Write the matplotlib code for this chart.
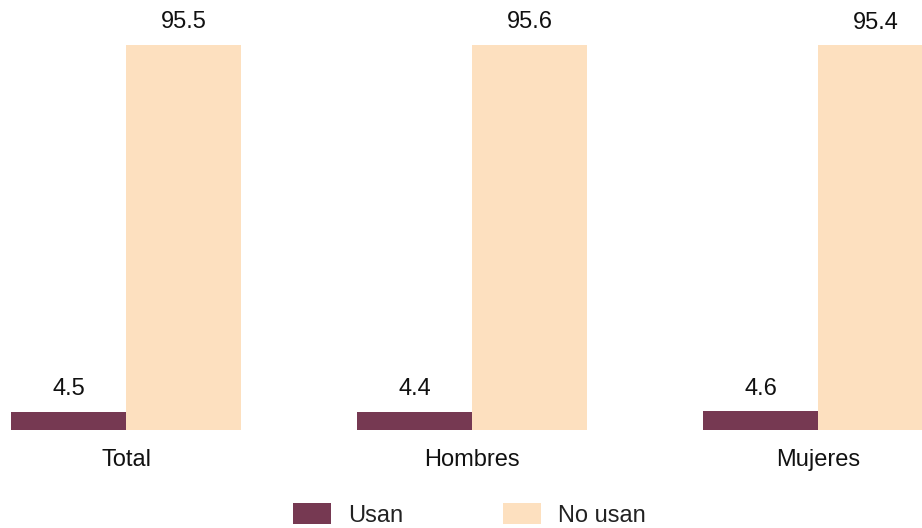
import matplotlib
matplotlib.use("Agg")
import matplotlib.pyplot as plt
import numpy as np

plt.rcParams['font.family'] = ['Liberation Sans', 'DejaVu Sans']

categories = ['Total', 'Hombres', 'Mujeres']
usan = [4.5, 4.4, 4.6]
no_usan = [95.5, 95.6, 95.4]
series_names = ['Usan', 'No usan']
colors = ['#763952', '#fde0bf']

W, H = 922, 528
fig = plt.figure(figsize=(W / 100, H / 100), dpi=100)
# axes placed in pixel terms: baseline at y=430, 4.03 px per unit
ax = fig.add_axes([0, (H - 430) / H, 1, 403.1 / H])

x = np.arange(len(categories))
w = 115 / 346
b1 = ax.bar(x - w / 2, usan, w, color=colors[0], label=series_names[0])
b2 = ax.bar(x + w / 2, no_usan, w, color=colors[1], label=series_names[1])

for bars, vals in ((b1, usan), (b2, no_usan)):
    for bar, v in zip(bars, vals):
        ax.annotate(f"{v:.1f}", (bar.get_x() + bar.get_width() / 2, v),
                    xytext=(0, 16.5), textcoords='offset points',
                    ha='center', va='center', fontsize=17, color='#111111')

for xi, c in zip(x, categories):
    ax.annotate(c, (xi, 0), xytext=(0, -21.5), textcoords='offset points',
                ha='center', va='center', fontsize=17, color='#111111')

ax.set_xlim(-126 / 346, (W - 126) / 346)
ax.set_ylim(0, 100)
ax.axis('off')

fig.legend(handles=[b1, b2], labels=series_names, ncol=2, frameon=False,
           loc='center left', bbox_to_anchor=(293 / W, (H - 515) / H),
           borderaxespad=0, borderpad=0, fontsize=17,
           handlelength=1.6, handleheight=0.95, handletextpad=0.75,
           columnspacing=4.2, labelcolor='#222222')

fig.savefig('out.png', dpi=100)
